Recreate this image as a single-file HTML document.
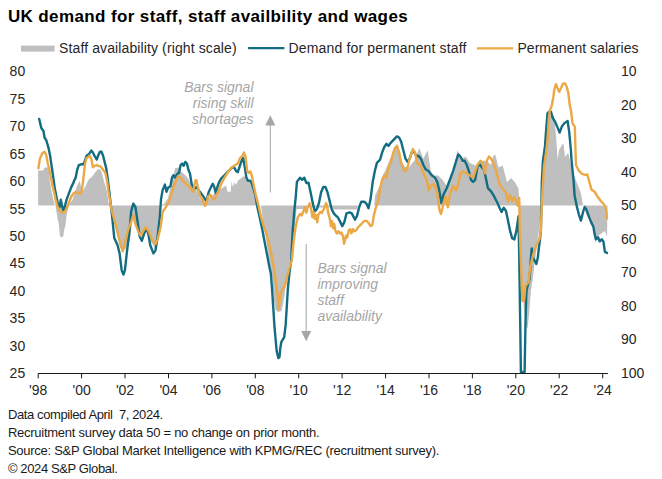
<!DOCTYPE html>
<html><head><meta charset="utf-8"><style>
html,body{margin:0;padding:0;background:#fff;}
body{width:662px;height:479px;overflow:hidden;font-family:"Liberation Sans", sans-serif;}
svg{display:block;font-family:"Liberation Sans", sans-serif;}
</style></head><body>
<svg width="662" height="479" viewBox="0 0 662 479">
<polygon points="38.1,205.5 38.1,170.6 43.0,170.6 44.6,167.5 47.8,167.5 48.7,171.0 50.1,182.4 51.7,191.8 53.3,199.6 54.8,205.0 55.5,205.5 57.6,218.7 58.8,224.4 59.4,230.2 59.9,236.0 61.5,237.5 63.4,236.0 64.0,230.2 65.7,224.4 66.2,218.7 67.5,210.0 68.5,205.5 70.0,203.0 72.5,200.0 74.9,191.7 77.2,185.4 79.6,180.7 81.1,187.0 83.5,190.0 85.8,185.4 87.4,182.3 89.0,179.1 91.3,177.6 93.7,174.5 96.0,171.3 98.4,169.0 100.7,169.8 102.3,174.5 103.8,180.7 105.4,185.4 107.0,191.7 108.5,202.6 109.5,205.5 111.5,206.0 115.0,225.0 120.0,245.0 125.0,250.0 130.0,240.0 133.0,215.0 136.0,225.0 140.0,235.0 145.0,230.0 150.0,240.0 155.0,248.0 159.0,235.0 160.0,206.0 161.5,205.0 164.0,204.0 168.0,198.0 172.0,180.7 175.1,168.2 178.2,167.4 180.6,171.0 182.9,172.9 186.1,176.0 188.4,179.0 190.6,183.8 193.9,188.5 198.1,191.8 199.4,198.0 204.1,202.6 207.2,199.5 210.4,197.0 215.0,193.2 219.8,190.1 223.7,187.0 226.0,185.4 227.6,191.7 230.7,191.7 231.5,181.5 233.0,187.0 234.6,182.3 236.2,185.0 237.8,180.7 240.1,179.1 241.7,177.6 244.0,176.0 246.4,179.1 249.5,182.3 252.6,187.0 255.8,196.4 258.1,202.6 259.9,205.5 261.0,205.5 263.0,222.0 266.0,238.0 268.0,255.0 270.5,268.0 272.5,280.0 274.0,300.0 275.5,310.0 278.0,312.0 281.5,311.0 283.0,304.0 284.5,295.0 286.0,283.0 288.0,270.0 290.0,258.0 293.0,240.0 295.5,220.0 296.5,209.0 305.0,209.0 306.0,207.5 331.0,207.5 332.0,209.5 357.0,209.5 358.0,205.5 374.2,205.5 375.0,196.0 376.7,192.0 380.0,185.2 381.7,178.5 383.4,174.0 385.1,171.0 387.6,165.1 390.0,159.0 392.6,154.0 395.1,148.4 396.8,143.4 398.4,146.7 400.1,155.1 402.6,163.4 405.1,166.8 408.5,168.0 411.8,163.4 415.0,160.0 419.2,148.1 423.4,158.6 427.7,150.2 430.8,171.3 434.0,175.6 438.2,175.6 440.4,177.7 442.5,179.8 446.7,186.1 449.9,179.8 453.0,173.4 457.3,150.2 461.5,158.6 465.7,156.5 470.0,162.9 474.2,165.0 478.4,167.1 482.6,160.8 486.9,160.8 491.1,165.0 493.2,155.9 495.3,154.4 498.5,167.5 502.7,165.4 507.0,182.3 511.0,178.0 515.0,182.3 518.5,188.6 519.6,205.5 520.5,230.0 521.5,260.0 522.5,290.0 524.0,310.0 526.0,325.0 527.5,329.0 529.0,315.0 531.0,290.0 533.5,273.0 535.0,260.0 537.0,245.0 538.7,232.0 540.5,215.0 541.5,205.5 541.8,205.5 542.5,170.0 544.0,145.0 547.0,125.0 550.0,116.0 554.0,116.0 556.0,135.0 557.7,160.0 559.0,150.0 561.9,145.0 563.5,143.5 565.0,157.0 568.2,152.7 572.5,171.7 576.7,182.3 580.9,192.9 583.0,204.9 584.0,205.5 586.0,214.0 591.0,222.6 594.0,229.0 595.0,243.0 598.0,236.0 602.0,233.0 605.0,231.0 607.0,237.0 607.5,205.5" fill="#bfbfbf"/>
<line x1="270.3" y1="124" x2="270.3" y2="192.5" stroke="#a6a6a6" stroke-width="1"/>
<polygon points="265.3,125.5 275.3,125.5 270.3,115.2" fill="#a6a6a6"/>
<line x1="306.2" y1="244" x2="306.2" y2="332" stroke="#a6a6a6" stroke-width="1"/>
<polygon points="301.2,331 311.2,331 306.2,341.2" fill="#a6a6a6"/>
<polyline points="39.2,118.9 41.3,128.0 43.5,131.0 44.5,137.5 46.2,140.0 48.5,147.8 50.1,155.7 51.7,166.7 53.3,177.6 54.8,188.6 56.4,196.5 58.0,204.3 59.5,207.4 60.8,199.6 62.0,205.9 63.5,210.6 65.0,205.9 66.6,199.6 68.9,193.3 71.3,187.1 73.6,182.4 74.1,180.7 75.7,177.6 77.2,169.8 78.8,165.1 81.1,164.3 83.5,164.3 85.1,160.4 86.6,155.7 89.0,154.1 91.3,150.6 92.9,152.5 94.4,155.7 96.8,159.6 98.4,154.9 99.9,151.7 101.5,151.7 103.1,155.7 104.6,161.9 106.2,168.2 107.8,179.1 109.3,191.7 110.9,205.8 112.2,217.2 114.3,238.1 117.5,245.0 119.6,253.4 121.7,270.4 123.4,274.6 124.9,270.4 127.0,251.3 129.1,234.4 131.2,211.1 133.3,203.7 135.4,207.0 137.6,221.7 139.7,236.5 141.8,240.8 143.9,234.4 146.0,229.0 148.1,232.3 150.2,245.0 153.4,253.4 155.5,250.3 157.6,236.5 159.8,217.5 161.0,199.5 162.6,190.1 164.9,184.6 166.5,191.7 168.1,187.8 170.4,186.2 172.0,177.6 173.5,175.2 175.1,177.6 177.5,173.7 179.0,172.9 180.6,165.1 182.2,163.5 183.7,165.8 185.3,161.9 186.9,163.5 188.4,169.8 190.0,173.7 191.6,183.8 193.1,187.0 195.0,188.5 196.3,187.0 198.6,190.1 201.0,193.2 203.3,196.4 205.7,200.3 207.2,197.9 208.8,191.7 211.1,187.0 212.7,183.8 214.3,187.0 215.8,193.2 217.4,187.0 219.0,182.3 221.3,178.4 223.7,176.0 226.0,173.7 229.1,170.5 231.5,168.2 233.8,166.6 236.2,171.3 237.8,172.1 240.1,165.1 241.7,160.4 243.2,158.0 244.8,167.4 246.4,177.6 247.9,180.7 250.3,180.7 251.9,183.8 253.4,188.5 255.5,196.0 257.3,206.7 260.2,219.8 262.4,230.0 264.6,241.7 266.8,253.4 269.0,265.0 270.9,274.0 272.0,288.0 273.2,306.7 274.4,325.4 275.6,339.4 276.7,351.1 278.4,358.1 279.5,357.0 280.2,348.8 281.4,341.8 284.2,337.1 285.6,325.4 286.8,306.7 287.9,288.0 289.6,271.7 291.2,260.0 292.6,232.3 294.3,211.1 295.8,196.3 296.9,181.9 300.0,177.7 302.2,179.8 304.3,177.7 306.4,183.0 308.5,182.8 310.6,192.3 312.7,202.9 314.8,211.3 316.9,209.2 319.0,202.9 321.1,192.3 323.3,187.0 325.4,187.0 327.5,192.3 329.6,200.8 331.7,209.2 333.8,213.4 335.9,215.6 338.1,217.7 340.2,221.9 342.3,226.1 344.4,221.9 346.5,213.4 349.7,212.4 351.8,213.4 355.0,219.8 357.1,215.6 359.2,207.1 361.3,201.8 364.5,201.8 366.6,203.9 368.5,208.3 370.6,198.8 372.7,181.9 374.8,171.3 376.9,162.9 380.1,159.7 382.2,152.3 384.3,147.0 386.4,143.8 388.5,145.9 390.7,142.8 393.8,139.6 397.0,136.4 399.1,137.5 401.2,141.7 403.3,150.2 405.5,158.6 407.6,161.8 409.7,158.6 411.8,152.3 413.9,151.2 416.0,155.5 419.2,156.5 421.3,159.7 423.4,165.0 425.6,169.2 428.7,171.3 431.9,175.6 435.1,177.7 437.2,181.9 439.3,190.4 441.4,203.0 443.5,194.6 446.7,188.2 449.9,179.8 453.0,171.3 456.2,160.8 458.3,154.4 460.4,156.5 462.6,160.8 464.7,160.8 466.8,165.0 468.9,171.3 471.0,179.8 473.1,181.9 475.2,179.8 477.4,167.1 479.5,163.9 481.6,167.1 483.7,169.2 485.8,177.7 487.9,188.2 491.1,191.4 494.3,196.7 497.5,203.0 499.5,207.7 501.6,211.9 503.7,207.7 505.9,210.8 508.0,220.4 510.1,230.9 512.2,238.3 514.3,239.4 516.4,230.9 518.5,216.1 519.3,260.9 520.2,322.6 520.9,372.0 524.6,372.0 525.5,322.6 526.4,291.7 527.7,285.6 529.5,279.4 530.7,260.9 531.7,248.5 533.2,257.8 536.3,264.0 537.8,257.8 538.8,248.5 540.0,239.3 540.9,230.0 541.8,182.3 542.9,161.1 545.0,146.3 545.9,133.4 547.5,113.4 549.2,111.7 550.9,111.7 552.6,117.6 555.1,121.8 557.6,127.6 559.6,132.6 561.7,126.8 564.2,123.4 567.6,120.9 569.2,131.8 570.9,150.0 571.5,160.0 573.6,180.9 574.6,195.5 576.7,205.9 578.8,214.3 580.9,220.6 583.0,212.2 584.6,207.0 586.7,210.1 588.8,216.4 591.3,222.6 593.4,226.8 594.4,233.1 595.9,239.3 598.0,237.2 599.7,241.4 601.8,239.3 603.4,241.4 604.9,251.9 607.0,252.9" fill="none" stroke="#136d82" stroke-width="2.4" stroke-linejoin="round" stroke-linecap="round"/>
<polyline points="38.4,168.2 39.9,158.8 42.3,153.3 44.6,151.8 46.2,154.9 47.8,163.5 49.3,169.8 50.9,177.6 52.5,185.5 54.0,191.8 55.6,199.6 57.2,205.9 59.5,210.6 61.9,212.2 64.2,212.2 66.6,209.0 68.9,202.7 71.3,196.5 73.6,193.3 74.9,192.5 78.0,192.5 80.4,194.0 81.9,190.1 83.5,177.6 85.1,163.5 86.6,158.0 88.2,157.2 89.8,155.7 91.3,158.8 92.9,167.4 94.4,165.8 96.8,165.1 98.4,165.8 100.7,166.6 103.1,169.8 105.4,172.9 107.0,180.7 108.5,191.7 110.1,201.1 111.7,210.5 115.4,223.8 118.5,236.5 120.6,245.0 122.8,251.3 124.9,242.9 128.0,230.2 131.2,221.7 133.3,215.4 135.4,223.8 138.6,232.3 140.7,235.5 143.9,230.2 146.0,227.0 149.2,232.3 152.4,240.8 155.5,244.0 157.6,239.7 160.8,226.0 162.6,212.0 165.7,207.3 168.8,202.6 171.2,194.8 173.5,187.0 175.9,180.7 178.2,176.0 180.6,177.6 182.9,180.7 185.3,183.1 187.6,185.4 190.0,187.0 191.6,190.1 193.1,191.7 195.2,181.0 196.3,180.0 197.8,187.0 200.2,196.4 202.5,199.5 204.9,205.8 206.4,204.2 208.0,196.4 210.4,194.8 211.9,197.9 214.3,199.5 216.6,194.8 219.0,190.1 221.3,183.8 223.7,179.1 226.0,175.2 228.4,171.3 230.7,168.2 233.1,166.6 235.4,165.1 237.8,163.5 240.1,158.0 242.5,155.7 244.0,152.5 245.6,157.2 247.2,171.3 248.7,172.9 250.3,171.3 251.9,176.0 253.4,183.8 255.8,195.0 258.8,206.7 261.0,216.9 263.1,224.2 266.1,233.0 269.0,243.2 271.2,253.4 273.4,265.0 275.8,281.3 277.5,295.0 278.6,309.0 280.2,295.0 281.9,290.4 284.9,285.7 287.2,276.4 289.6,267.0 291.9,260.0 293.7,240.8 295.8,226.0 297.9,217.0 300.2,214.0 301.8,215.5 303.6,210.6 305.0,207.2 306.3,212.7 307.7,207.2 309.7,203.2 311.1,208.6 312.4,217.4 313.5,212.0 314.8,218.8 316.0,215.0 317.2,222.2 318.6,214.0 320.3,212.0 321.8,213.0 323.3,210.0 324.7,207.2 326.0,203.2 327.0,205.0 328.1,212.7 329.5,217.4 331.0,226.0 332.0,221.0 333.1,228.2 334.2,224.0 335.2,230.3 336.8,233.4 338.4,231.3 340.0,233.4 341.5,232.4 343.0,236.5 344.1,243.8 345.1,239.6 346.2,235.5 347.2,237.6 348.8,230.3 350.3,229.2 351.4,233.4 353.0,229.2 354.5,231.3 356.1,230.3 358.2,227.1 360.3,225.1 362.4,223.0 364.4,220.9 366.5,220.9 368.6,223.0 370.7,226.1 372.3,225.1 373.8,215.7 375.4,209.4 377.0,204.2 378.5,200.0 380.1,188.2 382.2,179.8 384.3,175.6 386.4,177.7 388.5,167.1 390.7,162.9 392.8,154.4 394.9,148.1 397.0,146.0 399.1,152.3 401.2,162.9 403.3,169.2 405.5,171.3 407.6,167.1 409.7,158.6 412.9,149.1 415.0,152.3 417.1,162.9 420.3,165.0 423.4,173.4 426.6,179.8 428.7,190.4 430.8,186.1 434.0,184.0 437.2,192.5 439.5,210.0 441.0,214.0 442.5,208.0 443.5,203.0 445.6,196.7 447.8,207.3 449.9,194.6 453.0,186.1 456.2,190.4 458.3,184.0 460.4,173.4 463.6,171.3 466.8,173.4 470.0,175.6 473.1,177.7 475.2,171.3 477.4,165.0 480.5,160.8 482.6,162.9 484.8,173.4 486.9,160.8 489.0,156.5 491.1,158.6 494.3,165.0 497.4,176.0 499.5,184.0 502.7,188.6 505.9,192.9 508.0,201.3 510.1,195.0 512.2,201.3 514.3,197.1 517.5,205.6 519.2,198.0 519.8,230.0 520.9,260.9 522.4,301.0 524.0,301.0 525.5,285.6 528.6,282.5 530.1,267.0 533.2,254.7 536.3,245.4 539.4,239.3 540.9,230.0 541.8,203.4 543.9,167.5 546.0,152.7 547.5,140.0 548.7,120.0 549.7,110.9 551.7,105.9 553.4,96.7 554.2,90.0 555.9,84.2 557.6,88.4 559.2,91.7 560.9,88.4 563.1,83.4 565.1,83.4 566.7,86.7 568.4,93.4 569.7,105.1 570.9,110.1 572.6,123.4 574.8,126.8 575.5,150.0 576.0,165.0 578.8,170.7 582.0,173.8 585.2,174.9 587.3,174.5 589.4,182.3 591.5,189.7 594.7,191.8 597.8,197.1 601.0,201.3 604.2,204.5 606.3,210.1 607.0,218.5" fill="none" stroke="#eba846" stroke-width="2.4" stroke-linejoin="round" stroke-linecap="round"/>
<line x1="38" y1="373.5" x2="608" y2="373.5" stroke="#1a1a1a" stroke-width="1.2"/>
<line x1="38.2" y1="373.5" x2="38.2" y2="378.3" stroke="#1a1a1a" stroke-width="1"/>
<text x="38.2" y="394.8" font-size="14" font-weight="normal" font-style="normal" fill="#262626" text-anchor="middle">'98</text>
<line x1="81.6" y1="373.5" x2="81.6" y2="378.3" stroke="#1a1a1a" stroke-width="1"/>
<text x="81.6" y="394.8" font-size="14" font-weight="normal" font-style="normal" fill="#262626" text-anchor="middle">'00</text>
<line x1="125.0" y1="373.5" x2="125.0" y2="378.3" stroke="#1a1a1a" stroke-width="1"/>
<text x="125.0" y="394.8" font-size="14" font-weight="normal" font-style="normal" fill="#262626" text-anchor="middle">'02</text>
<line x1="168.5" y1="373.5" x2="168.5" y2="378.3" stroke="#1a1a1a" stroke-width="1"/>
<text x="168.5" y="394.8" font-size="14" font-weight="normal" font-style="normal" fill="#262626" text-anchor="middle">'04</text>
<line x1="211.9" y1="373.5" x2="211.9" y2="378.3" stroke="#1a1a1a" stroke-width="1"/>
<text x="211.9" y="394.8" font-size="14" font-weight="normal" font-style="normal" fill="#262626" text-anchor="middle">'06</text>
<line x1="255.3" y1="373.5" x2="255.3" y2="378.3" stroke="#1a1a1a" stroke-width="1"/>
<text x="255.3" y="394.8" font-size="14" font-weight="normal" font-style="normal" fill="#262626" text-anchor="middle">'08</text>
<line x1="298.7" y1="373.5" x2="298.7" y2="378.3" stroke="#1a1a1a" stroke-width="1"/>
<text x="298.7" y="394.8" font-size="14" font-weight="normal" font-style="normal" fill="#262626" text-anchor="middle">'10</text>
<line x1="342.1" y1="373.5" x2="342.1" y2="378.3" stroke="#1a1a1a" stroke-width="1"/>
<text x="342.1" y="394.8" font-size="14" font-weight="normal" font-style="normal" fill="#262626" text-anchor="middle">'12</text>
<line x1="385.6" y1="373.5" x2="385.6" y2="378.3" stroke="#1a1a1a" stroke-width="1"/>
<text x="385.6" y="394.8" font-size="14" font-weight="normal" font-style="normal" fill="#262626" text-anchor="middle">'14</text>
<line x1="429.0" y1="373.5" x2="429.0" y2="378.3" stroke="#1a1a1a" stroke-width="1"/>
<text x="429.0" y="394.8" font-size="14" font-weight="normal" font-style="normal" fill="#262626" text-anchor="middle">'16</text>
<line x1="472.4" y1="373.5" x2="472.4" y2="378.3" stroke="#1a1a1a" stroke-width="1"/>
<text x="472.4" y="394.8" font-size="14" font-weight="normal" font-style="normal" fill="#262626" text-anchor="middle">'18</text>
<line x1="515.8" y1="373.5" x2="515.8" y2="378.3" stroke="#1a1a1a" stroke-width="1"/>
<text x="515.8" y="394.8" font-size="14" font-weight="normal" font-style="normal" fill="#262626" text-anchor="middle">'20</text>
<line x1="559.2" y1="373.5" x2="559.2" y2="378.3" stroke="#1a1a1a" stroke-width="1"/>
<text x="559.2" y="394.8" font-size="14" font-weight="normal" font-style="normal" fill="#262626" text-anchor="middle">'22</text>
<line x1="602.7" y1="373.5" x2="602.7" y2="378.3" stroke="#1a1a1a" stroke-width="1"/>
<text x="602.7" y="394.8" font-size="14" font-weight="normal" font-style="normal" fill="#262626" text-anchor="middle">'24</text>
<text x="25.2" y="76.4" font-size="14" font-weight="normal" font-style="normal" fill="#262626" text-anchor="end">80</text>
<text x="25.2" y="103.8" font-size="14" font-weight="normal" font-style="normal" fill="#262626" text-anchor="end">75</text>
<text x="25.2" y="131.2" font-size="14" font-weight="normal" font-style="normal" fill="#262626" text-anchor="end">70</text>
<text x="25.2" y="158.6" font-size="14" font-weight="normal" font-style="normal" fill="#262626" text-anchor="end">65</text>
<text x="25.2" y="186.0" font-size="14" font-weight="normal" font-style="normal" fill="#262626" text-anchor="end">60</text>
<text x="25.2" y="213.5" font-size="14" font-weight="normal" font-style="normal" fill="#262626" text-anchor="end">55</text>
<text x="25.2" y="240.9" font-size="14" font-weight="normal" font-style="normal" fill="#262626" text-anchor="end">50</text>
<text x="25.2" y="268.3" font-size="14" font-weight="normal" font-style="normal" fill="#262626" text-anchor="end">45</text>
<text x="25.2" y="295.7" font-size="14" font-weight="normal" font-style="normal" fill="#262626" text-anchor="end">40</text>
<text x="25.2" y="323.1" font-size="14" font-weight="normal" font-style="normal" fill="#262626" text-anchor="end">35</text>
<text x="25.2" y="350.5" font-size="14" font-weight="normal" font-style="normal" fill="#262626" text-anchor="end">30</text>
<text x="25.2" y="377.9" font-size="14" font-weight="normal" font-style="normal" fill="#262626" text-anchor="end">25</text>
<text x="621" y="76.4" font-size="14" font-weight="normal" font-style="normal" fill="#262626" text-anchor="start">10</text>
<text x="621" y="109.9" font-size="14" font-weight="normal" font-style="normal" fill="#262626" text-anchor="start">20</text>
<text x="621" y="143.4" font-size="14" font-weight="normal" font-style="normal" fill="#262626" text-anchor="start">30</text>
<text x="621" y="176.9" font-size="14" font-weight="normal" font-style="normal" fill="#262626" text-anchor="start">40</text>
<text x="621" y="210.4" font-size="14" font-weight="normal" font-style="normal" fill="#262626" text-anchor="start">50</text>
<text x="621" y="243.9" font-size="14" font-weight="normal" font-style="normal" fill="#262626" text-anchor="start">60</text>
<text x="621" y="277.4" font-size="14" font-weight="normal" font-style="normal" fill="#262626" text-anchor="start">70</text>
<text x="621" y="310.9" font-size="14" font-weight="normal" font-style="normal" fill="#262626" text-anchor="start">80</text>
<text x="621" y="344.4" font-size="14" font-weight="normal" font-style="normal" fill="#262626" text-anchor="start">90</text>
<text x="621" y="377.9" font-size="14" font-weight="normal" font-style="normal" fill="#262626" text-anchor="start">100</text>
<text x="7.9" y="21.7" font-size="17" font-weight="bold" font-style="normal" fill="#000" text-anchor="start" textLength="399.8" lengthAdjust="spacing">UK demand for staff, staff availbility and wages</text>
<rect x="21" y="45.6" width="33.6" height="6" fill="#bfbfbf"/>
<text x="59.1" y="52.5" font-size="14" font-weight="normal" font-style="normal" fill="#262626" text-anchor="start" textLength="177.5" lengthAdjust="spacing">Staff availability (right scale)</text>
<line x1="248.1" y1="48.1" x2="284.4" y2="48.1" stroke="#136d82" stroke-width="2.4"/>
<text x="288.5" y="52.5" font-size="14" font-weight="normal" font-style="normal" fill="#262626" text-anchor="start" textLength="177.9" lengthAdjust="spacing">Demand for permanent staff</text>
<line x1="476.9" y1="48.4" x2="513.1" y2="48.4" stroke="#eba846" stroke-width="2.4"/>
<text x="517.5" y="52.5" font-size="14" font-weight="normal" font-style="normal" fill="#262626" text-anchor="start" textLength="121.0" lengthAdjust="spacing">Permanent salaries</text>
<text x="253.5" y="91.6" font-size="14" font-weight="normal" font-style="italic" fill="#a6a6a6" text-anchor="end">Bars signal</text>
<text x="253.5" y="107.6" font-size="14" font-weight="normal" font-style="italic" fill="#a6a6a6" text-anchor="end">rising skill</text>
<text x="253.5" y="123.6" font-size="14" font-weight="normal" font-style="italic" fill="#a6a6a6" text-anchor="end">shortages</text>
<text x="317.4" y="272.8" font-size="14" font-weight="normal" font-style="italic" fill="#a6a6a6" text-anchor="start">Bars signal</text>
<text x="317.4" y="288.7" font-size="14" font-weight="normal" font-style="italic" fill="#a6a6a6" text-anchor="start">improving</text>
<text x="317.4" y="304.6" font-size="14" font-weight="normal" font-style="italic" fill="#a6a6a6" text-anchor="start">staff</text>
<text x="317.4" y="320.5" font-size="14" font-weight="normal" font-style="italic" fill="#a6a6a6" text-anchor="start">availability</text>
<text x="7.9" y="418.50" font-size="13" font-weight="normal" font-style="normal" fill="#1a1a1a" text-anchor="start" textLength="155.3" lengthAdjust="spacing">Data compiled April&#160; 7, 2024.</text>
<text x="7.9" y="436.55" font-size="13" font-weight="normal" font-style="normal" fill="#1a1a1a" text-anchor="start" textLength="311.8" lengthAdjust="spacing">Recruitment survey data 50 = no change on prior month.</text>
<text x="7.9" y="454.60" font-size="13" font-weight="normal" font-style="normal" fill="#1a1a1a" text-anchor="start" textLength="431.5" lengthAdjust="spacing">Source: S&amp;P Global Market Intelligence with KPMG/REC (recruitment survey).</text>
<text x="7.9" y="472.65" font-size="13" font-weight="normal" font-style="normal" fill="#1a1a1a" text-anchor="start" textLength="109.9" lengthAdjust="spacing">© 2024 S&amp;P Global.</text>
</svg>
</body></html>
